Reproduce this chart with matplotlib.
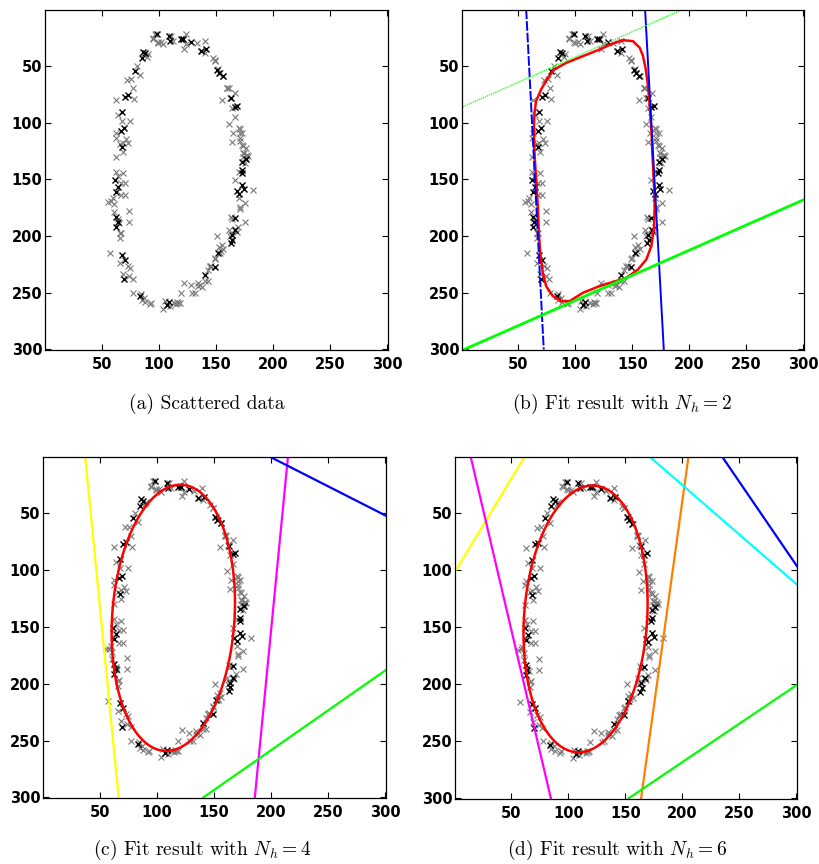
import numpy as np
import matplotlib
matplotlib.use("Agg")
import matplotlib.pyplot as plt

# scattered points (image coordinates, y grows downwards)
grey_x = [97, 94.6, 102, 99, 124, 122, 133, 140, 147, 149, 160, 161, 155.6, 167, 166.7,
          161.5, 170, 170.8, 164, 170.8, 172.5, 176, 174.6, 177.5, 174, 176.5, 170, 166.7,
          182.5, 170, 175.5, 171, 162.8, 169.6, 175.5, 161.4, 151, 152.6, 149.6, 145, 143,
          143, 128.5, 122, 129, 134.4, 119, 116, 104, 92.5, 88, 77.8, 85, 69, 75, 57.3, 65.9,
          65.9, 65.9, 61, 74, 74, 55.9, 59.6, 67, 70.5, 62.3, 69, 70.5, 62.3, 69, 62.3, 75,
          64.6, 73.4, 63, 78.7, 68, 72, 75.9, 77.8, 80.8, 83.7, 89.6, 91, 138, 136, 113, 117,
          146, 154, 155, 168, 171, 171, 173]
grey_y = [22, 25.6, 29, 28.5, 22, 35, 30, 27.4, 43, 45, 69.7, 69.7, 80, 73.5, 94.7,
          101, 105, 109.4, 116.8, 116, 119.7, 122.6, 126.5, 128, 130, 129, 143, 150.6,
          159.4, 166.8, 171, 174, 183.5, 191.8, 187.4, 194.7, 200, 210, 219.7, 227, 230,
          240, 243, 241, 250.6, 241.8, 250.6, 258, 264.7, 260, 258, 250, 256.5, 233, 228.5,
          215.3, 224, 197.6, 202, 178.5, 177.6, 187.4, 169.7, 166.8, 163.8, 163.8, 143.2,
          144.7, 153, 130, 125.6, 113, 98, 93.2, 118.2, 80, 79.4, 98.2, 62.4, 61.8, 69.7, 50,
          58, 41.8, 39.7, 245, 243, 259, 259, 226, 213, 208, 196, 176, 113, 109]

more_x = [94.8, 99.2, 103.6, 111, 112.4, 121.2, 124.2, 137.4, 140.3, 149, 152, 153.4,
          156.4, 159.9, 162.2, 163.7, 174, 178.4, 175.4, 173.4, 171, 165.2, 62.6, 66.1,
          68.4, 71.4, 64, 67, 58.2, 61.1, 64, 65.5, 67, 72.8, 74.3, 77.2, 84.6, 87.5, 93.4,
          105.1, 109.5, 115.3, 118.3, 131.5, 134.4, 140.3, 144.7, 149, 153.4, 156.4, 162.2,
          166.6, 163.7]
more_y = [26.5, 29.4, 30.9, 23.5, 27.9, 26.5, 30.9, 36.8, 38.2, 45.6, 52.9, 55.9, 58.8,
          69.1, 77.9, 86.8, 126.5, 129.4, 135.3, 120.6, 105.9, 108.8, 108.8, 119.1, 117.6,
          114.7, 147, 152.9, 169.1, 172, 185.3, 188.2, 197, 226.5, 235.3, 238.2, 251.5,
          254.4, 258.8, 257.4, 261.8, 260.3, 258.8, 250, 244.1, 239.7, 226.5, 220.6, 214.7,
          211.8, 200, 194.1, 185.3]

dark_x = [98.4, 108.6, 110, 119, 121, 128.6, 136.5, 141, 151, 153, 156, 163.4, 166.7,
          168.7, 173, 176, 173, 172.6, 173, 168, 170, 174.6, 166.7, 167, 163.7, 164.3,
          162.8, 152, 149, 140.3, 108.6, 107, 83.7, 70, 70.5, 68.2, 63, 64, 63, 63, 64.7,
          61.7, 67.6, 66.9, 69.8, 68, 70.5, 73, 79, 86.6, 88, 85]
dark_y = [22, 23.5, 27.6, 26.5, 26.5, 28.8, 36.5, 35.3, 53.5, 56, 58.8, 78.5, 86, 85,
          134.4, 132, 141.8, 144.7, 155, 160, 162.4, 158, 184.4, 194.7, 199, 203, 206.5,
          214.7, 227, 234.4, 258, 261, 253, 238, 221, 216.8, 191.8, 187.4, 183, 160.9,
          156.5, 150.6, 121.2, 107, 105, 90.6, 77, 75.6, 54, 37.4, 38.8, 43.2]

# fitted curve of (b)
fit_b_x = [141.7, 150.5, 156.4, 159.3, 161.7, 163.7, 165.2, 166.6, 167.5, 168.7, 169.6,
           169.0, 166.6, 162.2, 154.9, 144.7, 121.2, 106.6, 94.8, 87.5, 80.2, 74.3, 71.4,
           69.1, 67.9, 67.0, 65.5, 64.1, 63.5, 64.1, 65.5, 69.9, 75.8, 81.6, 91.9, 106.6,
           121.2, 132.9, 141.7]
fit_b_y = [27.1, 28.0, 33.8, 41.2, 52.9, 67.6, 85.3, 105.9, 126.5, 150.0, 173.5, 191.2,
           208.8, 220.6, 229.4, 236.8, 244.1, 250.0, 257.4, 257.4, 252.9, 244.1, 232.4,
           214.7, 197.0, 173.5, 150.0, 126.5, 105.9, 91.2, 80.9, 70.6, 60.3, 52.9, 47.1,
           41.2, 35.3, 30.0, 27.1]

# ellipses of (c) and (d): centre x, centre y, semi-major, semi-minor, tilt (deg)
ell_c = [114.5, 142.0, 117.3, 53.5, 3.8]
ell_d = [115.0, 142.5, 117.2, 54.0, 3.8]

# hyperplanes, as end points [x0, x1], [y0, y1]
b_lines = {
    "blue_l": ([56.8, 72.2], [0, 300]),
    "blue_r": ([161.1, 177.5], [0, 300]),
    "green_t": ([1, 194], [86, 0]),
    "green_b": ([2.5, 300], [300, 168]),
}
c_lines = {
    "yellow": ([37.4, 66.7], [0, 300]),
    "magenta": ([214.8, 185.8], [0, 300]),
    "blue": ([198.4, 300.5], [0, 52.2]),
    "green": ([140.8, 300.5], [300, 187.9]),
}
d_lines = {
    "yellow": ([1.7, 61.7], [99.2, 0]),
    "magenta": ([14.2, 84.6], [0, 300]),
    "orange": ([205.3, 163.7], [0, 300]),
    "cyan": ([171, 300.5], [0, 112.4]),
    "blue": ([234.7, 300.5], [0, 96.3]),
    "green": ([152.6, 300.5], [300, 200.3]),
}

captions = ["(a) Scattered data",
            "(b) Fit result with $N_h = 2$",
            "(c) Fit result with $N_h = 4$",
            "(d) Fit result with $N_h = 6$"]
ticks = [50, 100, 150, 200, 250, 300]

styles = {
    "blue_l": dict(color="#0000ff", lw=1.4, ls=(0, (5, 1))),
    "blue_r": dict(color="#0000ff", lw=1.4),
    "green_t": dict(color="#33ff33", lw=1.0, ls=(0, (1, 0.6))),
    "green_b": dict(color="#00ff00", lw=2.0),
    "yellow": dict(color="#ffff00", lw=1.6),
    "magenta": dict(color="#ff00ff", lw=1.6),
    "blue": dict(color="#0000ff", lw=1.6),
    "green": dict(color="#00ff00", lw=1.6),
    "orange": dict(color="#ff8000", lw=1.6),
    "cyan": dict(color="#00ffff", lw=1.6),
}


def ellipse(p):
    cx, cy, a, b, ang = p
    t = np.linspace(0, 2 * np.pi, 200)
    phi = np.radians(ang)
    ux, uy = np.sin(phi), -np.cos(phi)
    vx, vy = np.cos(phi), np.sin(phi)
    return cx + a * np.cos(t) * ux + b * np.sin(t) * vx, cy + a * np.cos(t) * uy + b * np.sin(t) * vy


def setup(ax):
    ax.set_xlim(0.5, 300.5)
    ax.set_ylim(300.5, 0.5)
    ax.set_xticks(ticks)
    ax.set_yticks(ticks)
    ax.tick_params(direction="in", length=4, width=0.8, top=True, right=True,
                   labelsize=10.5, pad=2)
    ax.tick_params(axis="x", pad=5)
    for lab in ax.get_xticklabels() + ax.get_yticklabels():
        lab.set_fontfamily("DejaVu Sans")
        lab.set_fontweight("bold")
    for s in ax.spines.values():
        s.set_linewidth(0.9)


def scatter(ax):
    ax.plot(grey_x, grey_y, "x", color="#7a7a7a", ms=4.5, mew=0.8)
    ax.plot(more_x, more_y, "x", color="#7a7a7a", ms=4.5, mew=0.8)
    ax.plot(dark_x, dark_y, "x", color="black", ms=4.5, mew=1.0)


fig = plt.figure(figsize=(8.2, 8.64), dpi=100)
pos = [[0.0549, 0.5949, 0.4183, 0.3935],
       [0.5634, 0.5949, 0.4171, 0.3935],
       [0.0524, 0.0764, 0.4183, 0.3947],
       [0.5549, 0.0752, 0.4171, 0.3958]]
axes = [fig.add_axes(p) for p in pos]

# (a)
scatter(axes[0])

# (b)
scatter(axes[1])
axes[1].plot(fit_b_x, fit_b_y, color="red", lw=1.8)
for k, (xs, ys) in b_lines.items():
    axes[1].plot(xs, ys, **styles[k])

# (c)
scatter(axes[2])
for k, (xs, ys) in c_lines.items():
    axes[2].plot(xs, ys, **styles[k])
ex, ey = ellipse(ell_c)
axes[2].plot(ex, ey, color="red", lw=1.8)

# (d)
scatter(axes[3])
for k, (xs, ys) in d_lines.items():
    axes[3].plot(xs, ys, **styles[k])
ex, ey = ellipse(ell_d)
axes[3].plot(ex, ey, color="red", lw=1.8)

for ax in axes:
    setup(ax)

cap_pos = [(207 / 820, 1 - 404 / 864), (622 / 820, 1 - 404 / 864),
           (202 / 820, 1 - 850 / 864), (617 / 820, 1 - 850 / 864)]
for (x, y), txt in zip(cap_pos, captions):
    fig.text(x, y, txt, ha="center", va="center", fontsize=14,
             family="cmr10", math_fontfamily="cm")

fig.savefig("out.png", dpi=100)
